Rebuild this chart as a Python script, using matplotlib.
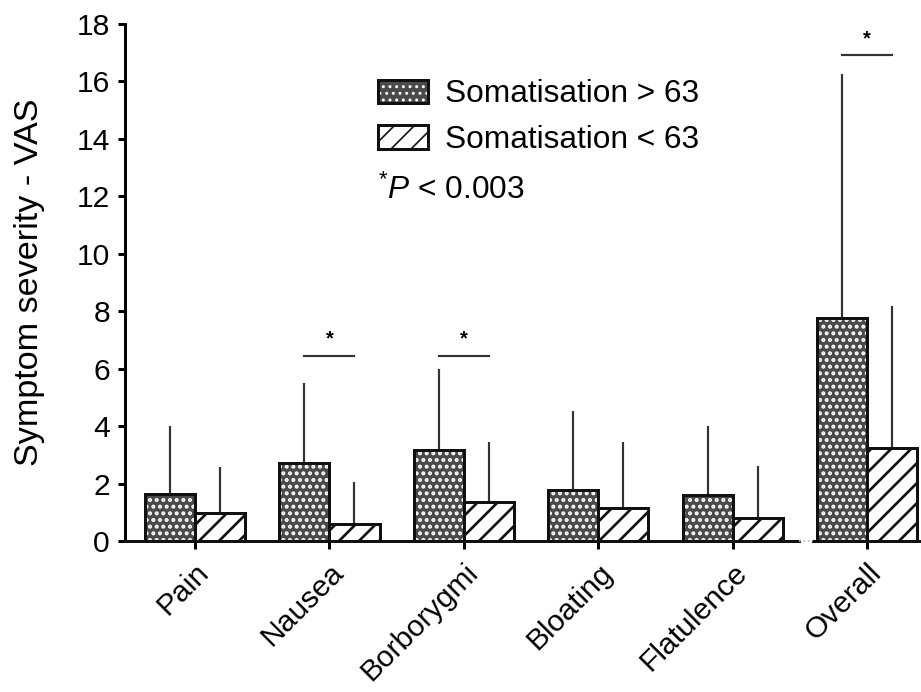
import matplotlib
matplotlib.use("Agg")
import matplotlib.pyplot as plt
import numpy as np

plt.rcParams['font.family'] = ['Liberation Sans', 'DejaVu Sans']
plt.rcParams['mathtext.fontset'] = 'custom'
plt.rcParams['mathtext.rm'] = 'Liberation Sans'
plt.rcParams['mathtext.it'] = 'Liberation Sans:italic'

# data
categories = ['Pain', 'Nausea', 'Borborygmi', 'Bloating', 'Flatulence', 'Overall']
high_mean = [1.65, 2.73, 3.18, 1.79, 1.60, 7.77]
high_sd = [2.37, 2.78, 2.82, 2.75, 2.43, 8.47]
low_mean = [0.99, 0.61, 1.37, 1.18, 0.80, 3.25]
low_sd = [1.60, 1.46, 2.09, 2.28, 1.82, 4.94]
sig_groups = [1, 2, 5]
sig_heights = [6.45, 6.45, 16.9]

x = np.arange(len(categories))
w = 0.373

fig = plt.figure(figsize=(921 / 120, 692 / 120), dpi=120)
ax = fig.add_axes([0.1357, 0.2175, 1 - 0.1357, 0.966 - 0.2175])

# dotted series: dark fill with white dots, outline drawn on top
with plt.rc_context({'hatch.color': 'white', 'hatch.linewidth': 1.6}):
    dots = ax.bar(x - w / 2, high_mean, w, color='#4a4a4a', hatch='...',
                  linewidth=0, zorder=2)
outl = ax.bar(x - w / 2, high_mean, w, fill=False, edgecolor='#111111',
              linewidth=1.8, zorder=3)
with plt.rc_context({'hatch.linewidth': 1.6}):
    stripes = ax.bar(x + w / 2, low_mean, w, color='white', edgecolor='#111111',
                     hatch='//', linewidth=1.8, zorder=3)

# upper-only error bars
ax.vlines(x - w / 2, high_mean, np.add(high_mean, high_sd), color='#333333',
          linewidth=1.3, zorder=1)
ax.vlines(x + w / 2, low_mean, np.add(low_mean, low_sd), color='#333333',
          linewidth=1.3, zorder=1)

# significance markers
for g, h in zip(sig_groups, sig_heights):
    ax.plot([g - w / 2, g + w / 2], [h, h], color='#333333', linewidth=1.3)
    ax.text(g, h + 0.25, '*', ha='center', va='bottom', fontsize=12,
            fontweight='bold')

ax.set_xlim(-0.52, 5.40)
ax.set_ylim(0, 18)
ax.set_yticks(np.arange(0, 19, 2))
ax.set_xticks(x)
ax.set_xticklabels(categories, rotation=45, ha='right', va='top',
                   rotation_mode='anchor', fontsize=18)
ax.tick_params(axis='y', labelsize=18, length=4, width=1.8, pad=5)
ax.tick_params(axis='x', length=5, width=1.8, pad=5)
ax.set_ylabel('Symptom severity - VAS', fontsize=20.5)
ax.yaxis.set_label_coords(-0.1, 0.5)

for s in ['top', 'right', 'bottom']:
    ax.spines[s].set_visible(False)
ax.spines['left'].set_linewidth(1.8)

# broken x axis
tr = ax.get_xaxis_transform()
ax.plot([-0.52, 4.49], [0, 0], color='#111111', linewidth=1.8,
        transform=tr, clip_on=False, zorder=4)
ax.plot([4.60, 5.40], [0, 0], color='#111111', linewidth=1.8,
        transform=tr, clip_on=False, zorder=4)
ax.plot([4.49, 4.60], [0, 0], color='#bbbbbb', linewidth=1.0, linestyle=':',
        transform=tr, clip_on=False, zorder=4)

leg = ax.legend([(dots[0], outl[0]), stripes[0]],
                ['Somatisation > 63', 'Somatisation < 63'],
                loc='upper left', bbox_to_anchor=(0.318, 0.892),
                frameon=False, fontsize=19, handlelength=1.58,
                handleheight=0.78, handletextpad=0.54, labelspacing=0.48,
                borderpad=0, borderaxespad=0)
ax.text(0.318, 0.678, r'$^{*}\mathit{P}$ < 0.003', transform=ax.transAxes,
        ha='left', va='center', fontsize=19)

fig.savefig('out.png', dpi=120)
